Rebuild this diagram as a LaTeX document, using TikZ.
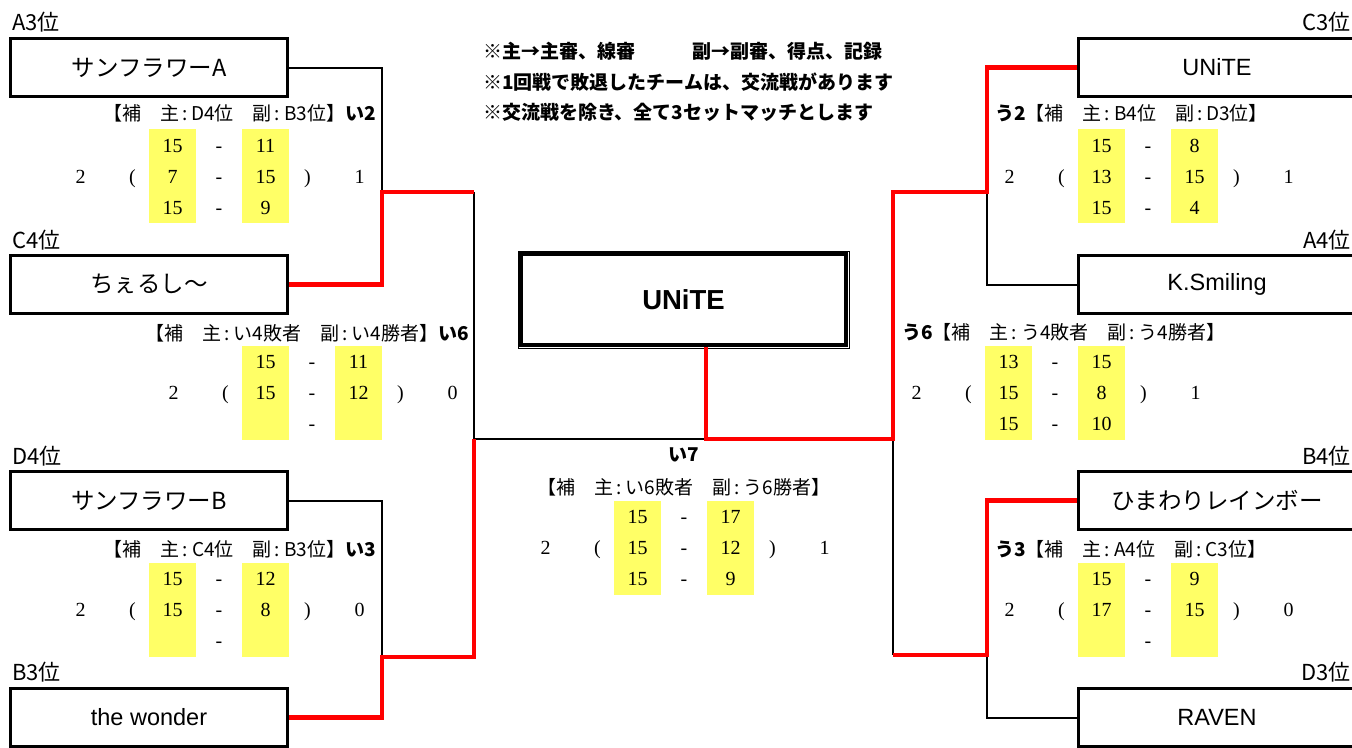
\documentclass[tikz,border=0pt]{standalone}
\usepackage{fontspec}
\setmainfont{Liberation Sans}
\newfontfamily\jp{Noto Sans CJK JP}
\newfontfamily\scorefont{Liberation Serif}
\definecolor{yel}{RGB}{255,255,102}
\definecolor{winred}{RGB}{255,0,0}
\newcommand\hcol{\kern3pt:\kern4pt}
\tikzset{
  team/.style={draw, line width=3pt, minimum width=277pt, minimum height=58pt, inner sep=0pt},
  jname/.style={font=\jp\fontsize{23.5}{25}\selectfont},
  lname/.style={font=\fontsize{23.5}{25}\selectfont},
  seed/.style={inner sep=0pt, font=\jp\fontsize{22}{24}\selectfont},
  hdr/.style={inner sep=0pt, font=\jp\fontsize{19}{21}\selectfont},
  num/.style={inner sep=0pt, text height=13.5pt, text depth=0pt, font=\scorefont\fontsize{20}{22}\selectfont},
  ycell/.style={fill=yel, minimum width=47pt, minimum height=94pt, inner sep=0pt},
  note/.style={anchor=west, inner sep=0pt, font=\jp\bfseries\fontsize{19}{21}\selectfont},
  link/.style={line width=2pt, black},
  win/.style={line width=4.5pt, winred},
}
% yellow cells: name, x of first column, top y
\newcommand\yelcells[3]{%
  \node[ycell] (#1-ya) at (#2, #3+47) {};
  \node[ycell] (#1-yb) at (#2+93, #3+47) {};
}
% one set: name, index, x, y, a, b
\newcommand\setrow[6]{%
  \node[num] (#1-a#2) at (#3,#4) {#5};
  \node[num] (#1-d#2) at (#3+46.5,#4) {-};
  \node[num] (#1-b#2) at (#3+93,#4) {#6};
}
% totals: name, x, y, L, R
\newcommand\settot[5]{%
  \node[num] (#1-L) at (#2-92,#3) {#4};
  \node[num] (#1-lp) at (#2-40,#3) {(};
  \node[num] (#1-rp) at (#2+135,#3) {)};
  \node[num] (#1-R) at (#2+187,#3) {#5};
}
\begin{document}
\begin{tikzpicture}[x=1pt,y=-1pt]
\useasboundingbox[fill=white] (0,0) rectangle (1352,747);

% notes
\node[note] (n1) at (483,51) {※主→主審、線審\hspace{57pt}副→副審、得点、記録};
\node[note] (n2) at (483,82) {※1回戦で敗退したチームは、交流戦があります};
\node[note] (n3) at (483,112) {※交流戦を除き、全て3セットマッチとします};

% seed labels
\node[seed, anchor=west] (s1) at (12,22) {A3位};
\node[seed, anchor=west] (s2) at (12,240) {C4位};
\node[seed, anchor=west] (s3) at (12,456) {D4位};
\node[seed, anchor=west] (s4) at (12,672) {B3位};
\node[seed, anchor=east] (s5) at (1351,22) {C3位};
\node[seed, anchor=east] (s6) at (1351,240) {A4位};
\node[seed, anchor=east] (s7) at (1351,456) {B4位};
\node[seed, anchor=east] (s8) at (1351,672) {D3位};

% team boxes
\node[team, jname] (b1) at (149,67.5) {サンフラワーA};
\node[team, jname] (b2) at (149,284.5) {ちぇるし〜};
\node[team, jname] (b3) at (149,500.5) {サンフラワーB};
\node[team, lname] (b4) at (149,717.5) {the wonder};
\node[team, lname] (r1) at (1217,67.5) {UNiTE};
\node[team, lname] (r2) at (1217,284.5) {K.Smiling};
\node[team, jname] (r3) at (1217,500.5) {ひまわりレインボー};
\node[team, lname] (r4) at (1217,717.5) {RAVEN};

% champion box
\node[draw, line width=1pt, minimum width=331pt, minimum height=97pt, inner sep=0pt] (finalouter) at (684,300) {};
\node[draw, line width=4pt, minimum width=325pt, minimum height=91pt, inner sep=0pt,
      font=\bfseries\fontsize{27.5}{30}\selectfont] (final) at (683.5,299.5) {UNiTE};

% junction points
\coordinate (i2) at (382,192);
\coordinate (i2r) at (474,192);
\coordinate (i3) at (382,657);
\coordinate (i3r) at (474,657);
\coordinate (i6) at (474,439);
\coordinate (i7) at (706,439);
\coordinate (u6) at (893,439);
\coordinate (u2l) at (893,192);
\coordinate (u2) at (987,192);
\coordinate (u3l) at (893,655);
\coordinate (u3) at (987,655);

% yellow cells
\yelcells{m2}{172.5}{129}
\yelcells{m6}{265.5}{346}
\yelcells{m3}{172.5}{563}
\yelcells{m7}{637.5}{501}
\yelcells{n2}{1101.5}{129}
\yelcells{n6}{1008.5}{346}
\yelcells{n3}{1101.5}{563}

% black connectors
\draw[link] (b1.east) -| (i2);
\draw[link] (i2r) -- (i6) -- (i7);
\draw[link] (b3.east) -| (i3);
\draw[link] (u2) |- (r2.west);
\draw[link] (u6) -- (u3l);
\draw[link] (u3) |- (r4.west);
% winners (red)
\draw[win] (b2.east) -| (i2) -- (i2r);
\draw[win] (b4.east) -| (i3) -- (i3r) -- (i6);
\draw[win] (final.south -| i7) -- (i7) -- (u6) -- (u2l) -- (u2) |- (r1.west);
\draw[win] (u3l) -- (u3) |- (r3.west);

% match い2
\node[hdr, anchor=east] (m2-h) at (376,113) {【補　主\hcol D4位　副\hcol B3位】\textbf{い2}};
\setrow{m2}{1}{172.5}{146}{15}{11}
\setrow{m2}{2}{172.5}{177}{7}{15}
\setrow{m2}{3}{172.5}{208}{15}{9}
\settot{m2}{172.5}{177}{2}{1}

% match い6
\node[hdr, anchor=east] (m6-h) at (469,333) {【補　主\hcol い4敗者　副\hcol い4勝者】\textbf{い6}};
\setrow{m6}{1}{265.5}{362}{15}{11}
\setrow{m6}{2}{265.5}{393}{15}{12}
\setrow{m6}{3}{265.5}{424}{}{}
\settot{m6}{265.5}{393}{2}{0}

% match い3
\node[hdr, anchor=east] (m3-h) at (376,549) {【補　主\hcol C4位　副\hcol B3位】\textbf{い3}};
\setrow{m3}{1}{172.5}{579}{15}{12}
\setrow{m3}{2}{172.5}{610}{15}{8}
\setrow{m3}{3}{172.5}{641}{}{}
\settot{m3}{172.5}{610}{2}{0}

% match い7
\node[hdr] (m7-t) at (684,455) {\textbf{い7}};
\node[hdr] (m7-h) at (684,487) {【補　主\hcol い6敗者　副\hcol う6勝者】};
\setrow{m7}{1}{637.5}{517}{15}{17}
\setrow{m7}{2}{637.5}{548}{15}{12}
\setrow{m7}{3}{637.5}{579}{15}{9}
\settot{m7}{637.5}{548}{2}{1}

% match う2
\node[hdr, anchor=west] (n2-h) at (995,113) {\textbf{う2}【補　主\hcol B4位　副\hcol D3位】};
\setrow{n2}{1}{1101.5}{146}{15}{8}
\setrow{n2}{2}{1101.5}{177}{13}{15}
\setrow{n2}{3}{1101.5}{208}{15}{4}
\settot{n2}{1101.5}{177}{2}{1}

% match う6
\node[hdr, anchor=west] (n6-h) at (902,332) {\textbf{う6}【補　主\hcol う4敗者　副\hcol う4勝者】};
\setrow{n6}{1}{1008.5}{362}{13}{15}
\setrow{n6}{2}{1008.5}{393}{15}{8}
\setrow{n6}{3}{1008.5}{424}{15}{10}
\settot{n6}{1008.5}{393}{2}{1}

% match う3
\node[hdr, anchor=west] (n3-h) at (995,549) {\textbf{う3}【補　主\hcol A4位　副\hcol C3位】};
\setrow{n3}{1}{1101.5}{579}{15}{9}
\setrow{n3}{2}{1101.5}{610}{17}{15}
\setrow{n3}{3}{1101.5}{641}{}{}
\settot{n3}{1101.5}{610}{2}{0}
\end{tikzpicture}
\end{document}
